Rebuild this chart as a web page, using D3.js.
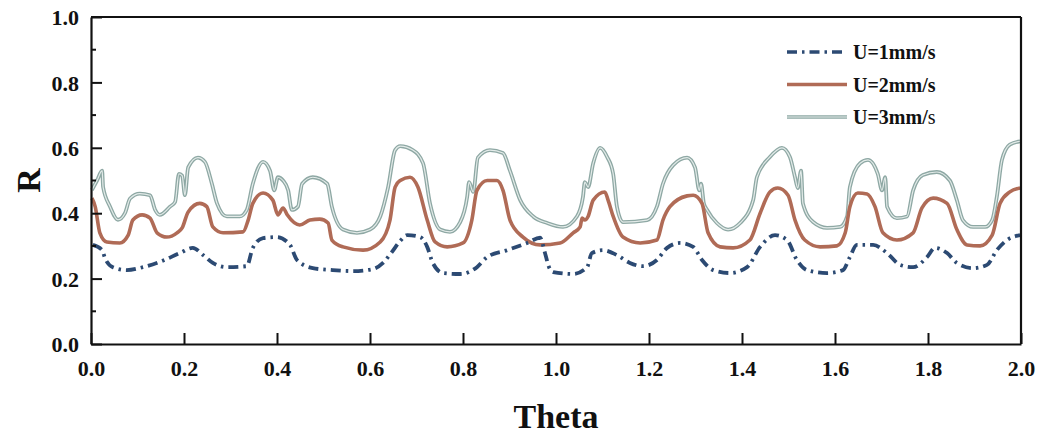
<!DOCTYPE html>
<html>
<head>
<meta charset="utf-8">
<title>R vs Theta</title>
<script src="https://cdnjs.cloudflare.com/ajax/libs/d3/7.8.5/d3.min.js"></script>
<style>
  body { margin: 0; background: #fff; }
  text { font-family: "Liberation Serif", "Times New Roman", serif; font-weight: bold; fill: #111; }
</style>
</head>
<body>
<div id="chart"></div>
<script>
// series (theta, R)
var u1Theta = [0.004,0.024,0.030,0.047,0.077,0.112,0.148,0.191,0.219,0.241,0.262,0.292,0.335,0.348,0.370,0.400,0.428,0.443,0.477,0.520,0.563,0.606,0.628,0.647,0.665,0.680,0.708,0.723,0.735,0.757,0.794,0.830,0.852,0.895,0.938,0.966,0.976,0.985,0.994,1.037,1.067,1.077,1.101,1.131,1.159,1.187,1.217,1.239,1.267,1.295,1.314,1.338,1.374,1.411,1.439,1.471,1.497,1.518,1.540,1.583,1.617,1.632,1.647,1.682,1.712,1.740,1.768,1.798,1.815,1.841,1.862,1.897,1.927,1.948,1.970,1.998];
var u1R = [0.303,0.287,0.263,0.235,0.226,0.235,0.251,0.278,0.294,0.272,0.248,0.235,0.238,0.294,0.324,0.327,0.303,0.257,0.232,0.226,0.223,0.229,0.248,0.281,0.315,0.333,0.327,0.297,0.248,0.217,0.214,0.235,0.266,0.287,0.309,0.325,0.280,0.235,0.220,0.214,0.235,0.278,0.287,0.272,0.248,0.238,0.257,0.294,0.309,0.297,0.257,0.226,0.217,0.235,0.297,0.333,0.318,0.257,0.226,0.217,0.226,0.266,0.303,0.303,0.278,0.242,0.235,0.266,0.294,0.278,0.248,0.232,0.242,0.287,0.318,0.333];

var u2Theta = [0.002,0.009,0.019,0.034,0.062,0.080,0.090,0.110,0.127,0.142,0.163,0.185,0.196,0.209,0.234,0.249,0.262,0.284,0.327,0.338,0.348,0.370,0.391,0.402,0.413,0.422,0.449,0.471,0.492,0.510,0.518,0.542,0.585,0.622,0.643,0.654,0.665,0.686,0.703,0.723,0.740,0.766,0.800,0.819,0.830,0.852,0.873,0.886,0.901,0.929,0.966,1.009,1.037,1.052,1.056,1.062,1.069,1.080,1.105,1.112,1.123,1.144,1.181,1.217,1.230,1.245,1.282,1.295,1.314,1.327,1.353,1.381,1.417,1.439,1.460,1.477,1.499,1.514,1.535,1.568,1.604,1.622,1.632,1.649,1.669,1.686,1.703,1.733,1.768,1.787,1.811,1.841,1.862,1.884,1.912,1.938,1.955,1.976,1.998];
var u2R = [0.446,0.420,0.340,0.312,0.309,0.333,0.379,0.395,0.385,0.340,0.327,0.340,0.355,0.404,0.430,0.420,0.358,0.340,0.343,0.379,0.430,0.462,0.440,0.395,0.416,0.395,0.364,0.379,0.382,0.370,0.318,0.297,0.287,0.312,0.379,0.480,0.500,0.510,0.480,0.379,0.312,0.297,0.309,0.379,0.470,0.500,0.500,0.470,0.379,0.327,0.303,0.309,0.340,0.358,0.385,0.379,0.390,0.440,0.465,0.440,0.390,0.327,0.309,0.318,0.379,0.420,0.453,0.455,0.430,0.340,0.297,0.294,0.318,0.400,0.465,0.477,0.455,0.379,0.318,0.297,0.300,0.340,0.420,0.462,0.459,0.420,0.340,0.318,0.340,0.416,0.446,0.430,0.350,0.303,0.300,0.333,0.430,0.465,0.477];

var u3Theta = [0.002,0.013,0.024,0.026,0.041,0.058,0.073,0.084,0.105,0.127,0.138,0.148,0.170,0.181,0.189,0.196,0.202,0.209,0.230,0.245,0.260,0.271,0.292,0.320,0.335,0.348,0.370,0.385,0.394,0.402,0.413,0.424,0.432,0.445,0.454,0.477,0.508,0.518,0.542,0.572,0.600,0.622,0.639,0.654,0.665,0.692,0.714,0.729,0.751,0.772,0.794,0.809,0.813,0.822,0.832,0.858,0.886,0.901,0.923,0.951,0.981,1.015,1.045,1.058,1.062,1.069,1.080,1.095,1.110,1.123,1.131,1.144,1.196,1.217,1.230,1.252,1.282,1.299,1.308,1.312,1.318,1.325,1.346,1.370,1.396,1.424,1.432,1.460,1.486,1.503,1.514,1.520,1.527,1.531,1.553,1.583,1.611,1.626,1.632,1.654,1.671,1.692,1.701,1.708,1.712,1.733,1.755,1.768,1.789,1.819,1.847,1.862,1.875,1.897,1.923,1.938,1.948,1.959,1.976,1.998];
var u3R = [0.471,0.500,0.530,0.480,0.420,0.380,0.400,0.445,0.460,0.455,0.410,0.395,0.420,0.435,0.520,0.515,0.455,0.540,0.570,0.557,0.490,0.430,0.390,0.390,0.410,0.490,0.557,0.530,0.470,0.510,0.500,0.470,0.410,0.420,0.490,0.510,0.490,0.420,0.350,0.340,0.350,0.390,0.480,0.593,0.605,0.593,0.553,0.430,0.350,0.343,0.373,0.450,0.495,0.465,0.570,0.593,0.584,0.530,0.440,0.390,0.370,0.358,0.390,0.450,0.495,0.480,0.553,0.600,0.572,0.520,0.420,0.373,0.379,0.420,0.490,0.547,0.570,0.540,0.470,0.490,0.430,0.410,0.370,0.350,0.370,0.440,0.510,0.572,0.600,0.572,0.510,0.477,0.530,0.430,0.373,0.355,0.358,0.390,0.480,0.553,0.563,0.520,0.470,0.510,0.420,0.385,0.390,0.470,0.517,0.526,0.500,0.440,0.379,0.358,0.358,0.379,0.450,0.563,0.610,0.620];

var xTicks = [0, 0.2, 0.4, 0.6, 0.8, 1.0, 1.2, 1.4, 1.6, 1.8, 2.0];
var yTicks = [0, 0.2, 0.4, 0.6, 0.8, 1.0];
var yMinor = [0.1, 0.3, 0.5, 0.7, 0.9];
var legendLabels = ["U=1mm/s", "U=2mm/s", "U=3mm/"];

var W = 1042, H = 434;
var margin = {top: 17, right: 21, bottom: 90, left: 91};
var width = W - margin.left - margin.right,
    height = H - margin.top - margin.bottom;

var svg = d3.select("#chart").append("svg")
    .attr("width", W).attr("height", H);
var g = svg.append("g")
    .attr("transform", "translate(" + margin.left + "," + margin.top + ")");

var x = d3.scaleLinear().domain([0, 2]).range([0, width]);
var y = d3.scaleLinear().domain([0, 1]).range([height, 0]);

function pairs(t, r) { return t.map(function(d, i) { return [d, r[i]]; }); }

var line = d3.line()
    .x(function(d) { return x(d[0]); })
    .y(function(d) { return y(d[1]); })
    .curve(d3.curveMonotoneX);

// U=3 : double outline look
g.append("path").datum(pairs(u3Theta, u3R))
  .attr("d", line).attr("fill", "none")
  .attr("stroke", "#8ea8a4").attr("stroke-width", 3.8).attr("stroke-linejoin", "round");
g.append("path").datum(pairs(u3Theta, u3R))
  .attr("d", line).attr("fill", "none")
  .attr("stroke", "#e3ebe9").attr("stroke-width", 1.2).attr("stroke-linejoin", "round");

// U=2
g.append("path").datum(pairs(u2Theta, u2R))
  .attr("d", line).attr("fill", "none")
  .attr("stroke", "#b06b56").attr("stroke-width", 3.6).attr("stroke-linejoin", "round");

// U=1 dash-dot
g.append("path").datum(pairs(u1Theta, u1R))
  .attr("d", line).attr("fill", "none")
  .attr("stroke", "#2c4a73").attr("stroke-width", 3.8)
  .attr("stroke-dasharray", "10,5,2.5,5");

// axes (ticks inward)
var xAxis = g.append("g").attr("transform", "translate(0," + height + ")")
  .call(d3.axisBottom(x).tickValues(xTicks).tickSizeInner(-11).tickSizeOuter(0)
        .tickFormat(d3.format(".1f")).tickPadding(16));
var yAxis = g.append("g")
  .call(d3.axisLeft(y).tickValues(yTicks).tickSizeInner(-11).tickSizeOuter(0)
        .tickFormat(d3.format(".1f")).tickPadding(22));
[xAxis, yAxis].forEach(function(a) {
  a.select(".domain").attr("stroke", "#111").attr("stroke-width", 2.2);
  a.selectAll(".tick line").attr("stroke", "#111").attr("stroke-width", 2);
  a.selectAll(".tick text").style("font-size", "22px").style("font-family", "Liberation Serif")
    .style("font-weight", "bold").attr("fill", "#111");
});
yAxis.selectAll(".tick text").attr("x", -12).attr("dy", "0.35em");

g.selectAll(".yminor").data(yMinor).enter().append("line")
  .attr("x1", 0).attr("x2", 5)
  .attr("y1", function(d) { return y(d); }).attr("y2", function(d) { return y(d); })
  .attr("stroke", "#111").attr("stroke-width", 2);

// top and right frame
g.append("line").attr("x1", 0).attr("x2", width).attr("y1", 0).attr("y2", 0)
  .attr("stroke", "#111").attr("stroke-width", 2.2);
g.append("line").attr("x1", width).attr("x2", width).attr("y1", 0).attr("y2", height)
  .attr("stroke", "#111").attr("stroke-width", 2.2);

// axis titles
svg.append("text").attr("x", margin.left + width / 2).attr("y", 428)
  .attr("text-anchor", "middle").style("font-size", "34px").text("Theta");
svg.append("text").attr("transform", "translate(40," + (margin.top + height / 2) + ") rotate(-90)")
  .attr("text-anchor", "middle").style("font-size", "34px").text("R");

// legend
var legend = svg.append("g").attr("transform", "translate(787,52)");
var legendRows = [
  {stroke: "#2c4a73", dash: "10,5,2.5,5", w: 3.6},
  {stroke: "#b06b56", dash: null, w: 3.4},
  {stroke: "#8ea8a4", dash: null, w: 3.6}
];
legendRows.forEach(function(r, i) {
  var row = legend.append("g").attr("transform", "translate(0," + (i * 32.5) + ")");
  row.append("line").attr("x1", 0).attr("x2", 60).attr("y1", 0).attr("y2", 0)
    .attr("stroke", r.stroke).attr("stroke-width", r.w)
    .attr("stroke-dasharray", r.dash);
  if (i == 2) {
    row.append("line").attr("x1", 0).attr("x2", 60).attr("y1", 0).attr("y2", 0)
      .attr("stroke", "#e3ebe9").attr("stroke-width", 1.2);
  }
  var t = row.append("text").attr("x", 66).attr("y", 7).style("font-size", "20px")
    .text(legendLabels[i]);
  if (i == 2) t.append("tspan").style("font-weight", "normal").text("s");
});
</script>
</body>
</html>
